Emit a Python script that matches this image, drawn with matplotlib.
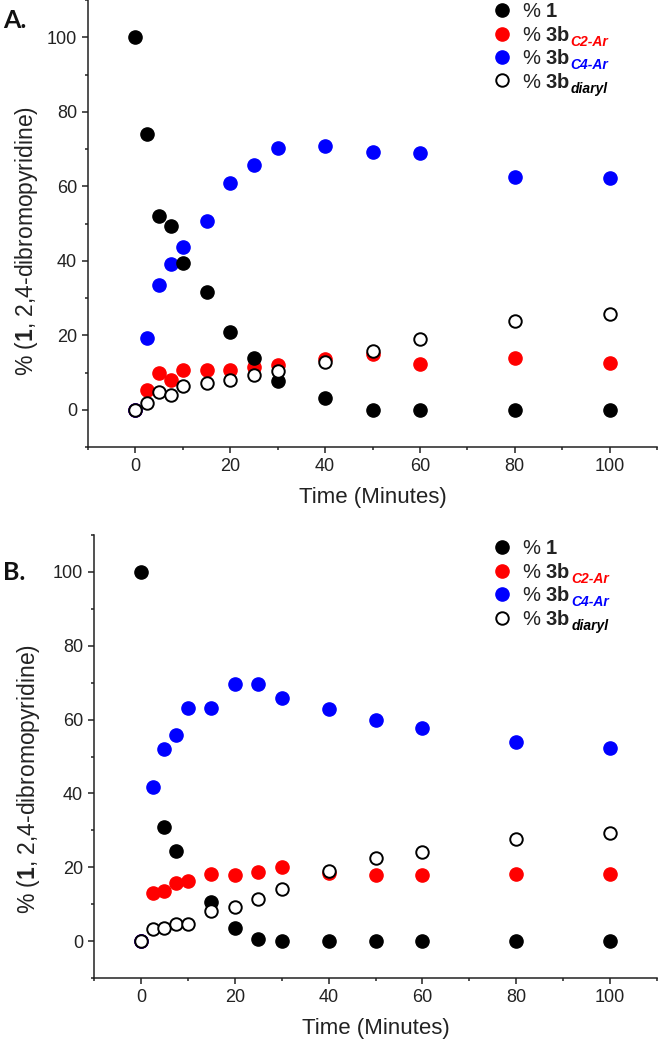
import numpy as np
import matplotlib
matplotlib.use('Agg')
import matplotlib.pyplot as plt

plt.rcParams['font.family'] = ['Liberation Sans', 'DejaVu Sans']
plt.rcParams['mathtext.fontset'] = 'custom'
plt.rcParams['mathtext.rm'] = 'Liberation Sans'
plt.rcParams['mathtext.bf'] = 'Liberation Sans:bold'
plt.rcParams['mathtext.it'] = 'Liberation Sans:italic'

time_min = [0, 2.5, 5, 7.5, 10, 15, 20, 25, 30, 40, 50, 60, 80, 100]

# panel A
a_sm = [100, 74.1, 52.1, 49.2, 39.4, 31.6, 20.8, 14.0, 7.6, 3.1, 0, 0, 0, 0]
a_c2 = [0, 5.2, 9.9, 8.1, 10.8, 10.6, 10.8, 11.6, 12.1, 13.6, 15.0, 12.4, 13.9, 12.5]
a_c4 = [0, 19.3, 33.5, 39.0, 43.8, 50.8, 60.8, 65.7, 70.4, 70.9, 69.2, 69.0, 62.6, 62.2]
a_diaryl = [0, 1.9, 4.7, 3.9, 6.3, 7.2, 8.1, 9.2, 10.4, 12.9, 15.7, 18.9, 23.7, 25.6]

# panel B
b_sm = [100, np.nan, 31.0, 24.5, np.nan, 10.7, 3.5, 0.5, 0, 0, 0, 0, 0, 0]
b_c2 = [0, 12.9, 13.5, 15.6, 16.2, 18.2, 17.9, 18.8, 20.1, 18.4, 17.9, 18.0, 18.3, 18.2]
b_c4 = [0, 41.8, 51.9, 55.7, 63.1, 63.1, 69.6, 69.6, 65.8, 62.8, 59.8, 57.8, 54.0, 52.3]
b_diaryl = [0, 3.3, 3.6, 4.7, 4.5, 8.2, 9.1, 11.4, 14.1, 19.1, 22.5, 24.0, 27.6, 29.3]

subs = [('C2-Ar', '#ff0000'), ('C4-Ar', '#0000ff'), ('diaryl', 'black')]


def draw_panel(ax, sm, c2, c4, diaryl, leg_anchor):
    ms = 9.5
    h2, = ax.plot(time_min, c2, 'o', color='#ff0000', ms=ms, mec='#ff0000', zorder=2)
    h4, = ax.plot(time_min, c4, 'o', color='#0000ff', ms=ms, mec='#0000ff', zorder=2)
    h1, = ax.plot(time_min, sm, 'o', color='black', ms=ms, zorder=3)
    hd, = ax.plot(time_min, diaryl, 'o', mfc='white', mec='black', mew=1.4, ms=ms - 0.5, zorder=4)

    ax.set_xlim(-10, 110)
    ax.set_ylim(-10, 110)
    ax.set_xticks(np.arange(0, 101, 20))
    ax.set_xticks(np.arange(-10, 111, 10), minor=True)
    ax.set_yticks(np.arange(0, 101, 20))
    ax.set_yticks(np.arange(-10, 111, 10), minor=True)
    for s in ['top', 'right']:
        ax.spines[s].set_visible(False)
    for s in ['left', 'bottom']:
        ax.spines[s].set_linewidth(1.1)
        ax.spines[s].set_color('#222222')
    ax.tick_params(which='major', direction='out', length=4, width=1.1, color='#222222',
                   labelsize=13, labelcolor='#222222', pad=4)
    ax.tick_params(which='minor', direction='out', length=2.5, width=1.1, color='#222222')

    ax.set_xlabel('Time (Minutes)', fontsize=16, color='#222222')
    ax.set_ylabel('% (' + r'$\mathbf{1}$' + ', 2,4-dibromopyridine)', fontsize=16.5, color='#222222')

    leg = ax.legend([h1, h2, h4, hd], ['% ' + r'$\mathbf{1}$', '% ' + r'$\mathbf{3b}$',
                                       '% ' + r'$\mathbf{3b}$', '% ' + r'$\mathbf{3b}$'],
                    loc='upper left', bbox_to_anchor=leg_anchor, frameon=False,
                    fontsize=14.5, handlelength=0.9, handletextpad=0.55, borderpad=0,
                    borderaxespad=0, labelspacing=0.22)
    for t in leg.get_texts():
        t.set_color('#222222')
    for t, (sub, col) in zip(leg.get_texts()[1:], subs):
        ax.annotate(sub, xy=(1, 0.22), xycoords=t, xytext=(0.5, -1), textcoords='offset points',
                    ha='left', va='center', fontsize=10, color=col,
                    fontstyle='italic', fontweight='bold', zorder=6)
    return leg


fig = plt.figure(figsize=(6.66, 10.45), dpi=100)
axA = fig.add_axes([88 / 666, 1 - 447 / 1045, 569 / 666, 447 / 1045])
axB = fig.add_axes([94 / 666, 1 - 978 / 1045, 563 / 666, 443 / 1045])

draw_panel(axA, a_sm, a_c2, a_c4, a_diaryl, (0.711, 0.995))
draw_panel(axB, b_sm, b_c2, b_c4, b_diaryl, (0.709, 0.99))

axA.yaxis.set_label_coords(-0.085, 0.46)
axB.yaxis.set_label_coords(-0.093, 0.45)
axA.xaxis.set_label_coords(0.5, -0.09)
axB.xaxis.set_label_coords(0.5, -0.09)

fig.text(3 / 666, 1 - 20 / 1045, 'A.', fontsize=18, fontweight='bold', family='Lato',
         ha='left', va='center', color='#111111')
fig.text(3 / 666, 1 - 572 / 1045, 'B.', fontsize=18, fontweight='bold', family='Lato',
         ha='left', va='center', color='#111111')

fig.savefig('out.png', dpi=100)
